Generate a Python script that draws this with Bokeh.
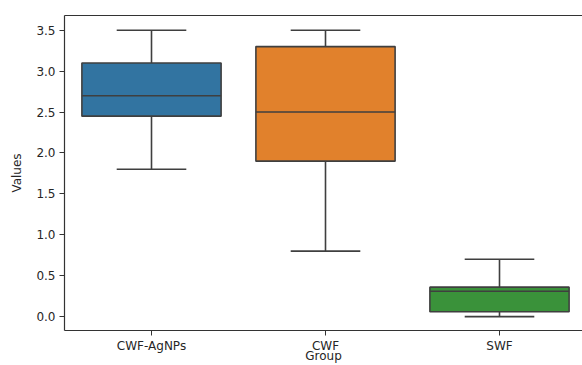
import numpy as np
from bokeh.plotting import figure
from bokeh.models import Range1d, FixedTicker, PrintfTickFormatter, LinearAxis
from bokeh.embed import file_html
from bokeh.resources import INLINE

groups = ["CWF-AgNPs", "CWF", "SWF"]
lower = [1.8, 0.8, 0.0]
q1 = [2.45, 1.9, 0.06]
median = [2.7, 2.5, 0.31]
q3 = [3.1, 3.3, 0.36]
upper = [3.5, 3.5, 0.7]
colors = ["#3274a1", "#e1812c", "#3a923a"]
y_ticks = [0.0, 0.5, 1.0, 1.5, 2.0, 2.5, 3.0, 3.5]

x = np.arange(len(groups))
edge = "#3f3f3f"
font = "DejaVu Sans"

p = figure(width=582, height=365, output_backend="svg", toolbar_location=None,
           x_range=Range1d(-0.5, 2.477), y_range=Range1d(-0.17, 3.68),
           min_border_left=64, min_border_top=15, min_border_right=0, min_border_bottom=35)
p.outline_line_color = None
p.grid.visible = False
p.background_fill_color = "white"
p.border_fill_color = "white"

# whiskers
p.segment(x0=x, x1=x, y0=lower, y1=q1, line_color=edge, line_width=1.6)
p.segment(x0=x, x1=x, y0=q3, y1=upper, line_color=edge, line_width=1.6)
# caps
p.segment(x0=x - 0.2, x1=x + 0.2, y0=lower, y1=lower, line_color=edge, line_width=1.6)
p.segment(x0=x - 0.2, x1=x + 0.2, y0=upper, y1=upper, line_color=edge, line_width=1.6)
# boxes
p.vbar(x=x, width=0.8, bottom=q1, top=q3, fill_color=colors, line_color=edge, line_width=1.6)
# medians
p.segment(x0=x - 0.4, x1=x + 0.4, y0=median, y1=median, line_color=edge, line_width=1.6)

for ax in (p.xaxis[0], p.yaxis[0]):
    ax.axis_line_color = "#333333"
    ax.axis_line_width = 1.2
    ax.major_tick_line_color = "#333333"
    ax.major_tick_out = 5
    ax.major_tick_in = 0
    ax.minor_tick_line_color = None
    ax.major_label_text_font = font
    ax.major_label_text_font_size = "12px"
    ax.major_label_text_color = "#262626"
    ax.axis_label_text_font = font
    ax.axis_label_text_font_size = "12px"
    ax.axis_label_text_font_style = "normal"
    ax.axis_label_text_color = "#262626"

p.xaxis.ticker = FixedTicker(ticks=list(x))
p.xaxis.major_label_overrides = {int(i): g for i, g in zip(x, groups)}
p.xaxis.axis_label = "Group"
p.xaxis.major_label_standoff = 3
p.xaxis.axis_label_standoff = -7

p.yaxis.ticker = FixedTicker(ticks=y_ticks)
p.yaxis.formatter = PrintfTickFormatter(format="%.1f")
p.yaxis.axis_label = "Values"
p.yaxis.major_label_standoff = 4
p.yaxis.axis_label_standoff = 9

top = LinearAxis(axis_line_color="#333333", axis_line_width=1.2,
                 major_tick_line_color=None, minor_tick_line_color=None,
                 major_label_text_color=None, major_label_text_font_size="1px",
                 major_tick_out=0, major_tick_in=0, minor_tick_out=0, minor_tick_in=0,
                 major_label_standoff=0)
p.add_layout(top, "above")

open("out.html", "w").write(file_html(p, INLINE))
